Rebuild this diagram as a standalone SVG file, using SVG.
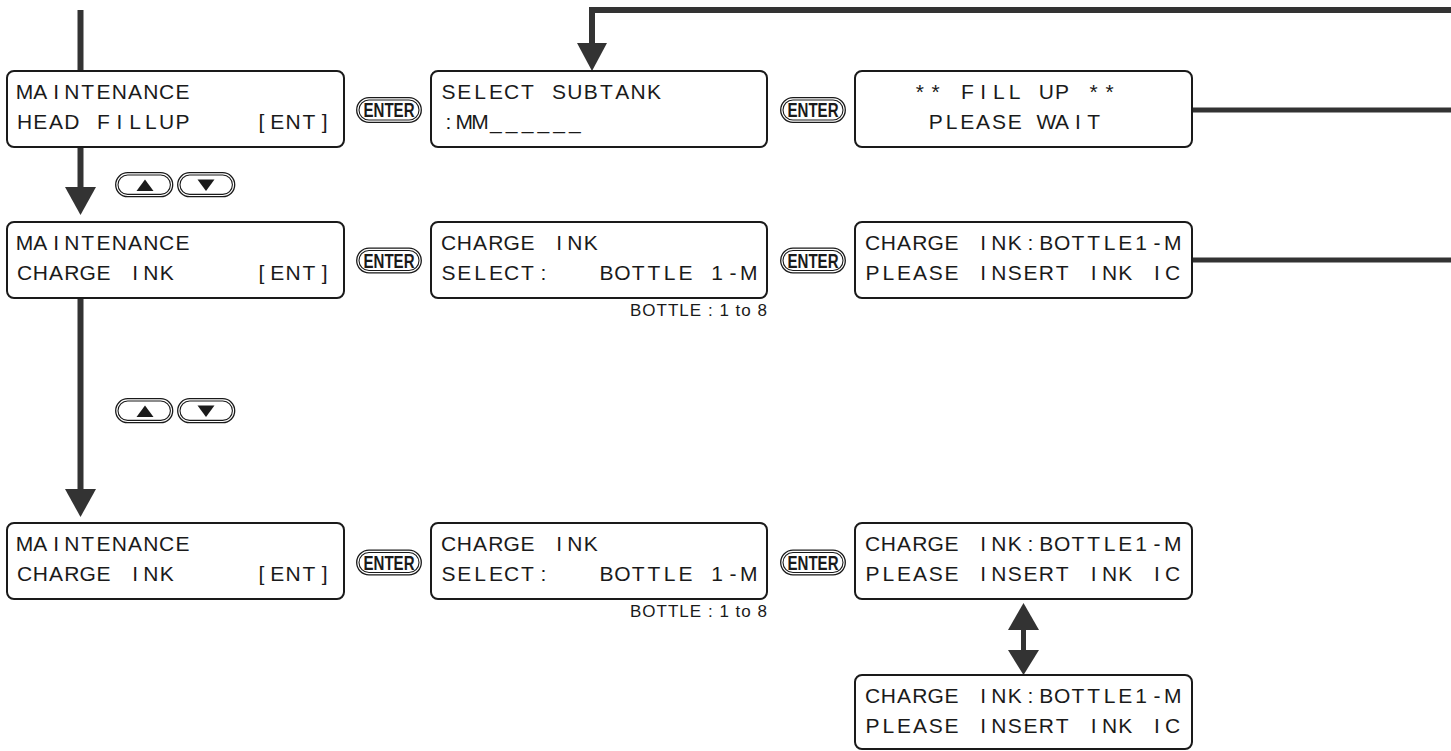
<svg xmlns="http://www.w3.org/2000/svg" xmlns:xlink="http://www.w3.org/1999/xlink" width="1451" height="751" viewBox="0 0 1451 751">
<style>
.box{fill:#fff;stroke:#1a1a1a;stroke-width:2}
.lcd{font-family:"Liberation Sans",Arial,sans-serif;font-size:21px;fill:#1a1a1a;text-anchor:middle}
.lbl{font-family:"Liberation Sans",Arial,sans-serif;font-size:17px;fill:#1a1a1a;text-anchor:end}
.btn{fill:#fff;stroke:#1a1a1a;stroke-width:1.3}
.btnin{fill:none;stroke:#1a1a1a;stroke-width:1.1}
.btxt{font-family:"Liberation Sans",Arial,sans-serif;font-weight:bold;font-size:20.5px;fill:#1a1a1a;text-anchor:middle}
.ln{fill:none;stroke:#333;stroke-width:6}
.ln5{fill:none;stroke:#333;stroke-width:5}
.hd{fill:#333}
.tri{fill:#1a1a1a}
</style>
<defs>
<g id="enter">
<rect class="btn" x="0.7" y="0.7" width="64.6" height="24.6" rx="12.3"/>
<rect class="btnin" x="3" y="3" width="60" height="20" rx="10"/>
<text class="btxt" x="33" y="20.3" textLength="51" lengthAdjust="spacingAndGlyphs">ENTER</text>
</g>
<g id="updown">
<rect class="btn" x="0.7" y="0.7" width="57" height="24" rx="12"/>
<rect class="btnin" x="3" y="3" width="52.4" height="19.4" rx="9.7"/>
<polygon class="tri" points="21.5,19 38.5,19 30,7.5"/>
<rect class="btn" x="62.7" y="0.7" width="57" height="24" rx="12"/>
<rect class="btnin" x="65" y="3" width="52.4" height="19.4" rx="9.7"/>
<polygon class="tri" points="82.5,7.5 99.5,7.5 91,19"/>
</g>
</defs>

<g id="connectors">
<line class="ln" x1="80.5" y1="10" x2="80.5" y2="71"/>
<line class="ln" x1="80.5" y1="147" x2="80.5" y2="189"/>
<polygon class="hd" points="65,187 96,187 80.5,215"/>
<line class="ln" x1="80.5" y1="298" x2="80.5" y2="491"/>
<polygon class="hd" points="65,489 96,489 80.5,517"/>
<path class="ln" d="M1451 10 H592 V45"/>
<polygon class="hd" points="577,43 607,43 592,71"/>
<line class="ln5" x1="1192" y1="110" x2="1451" y2="110"/>
<line class="ln5" x1="1192" y1="260" x2="1451" y2="260"/>
<rect class="hd" x="1021" y="628" width="5" height="24"/>
<polygon class="hd" points="1008,630 1039,630 1023.5,603"/>
<polygon class="hd" points="1008,650 1039,650 1023.5,675"/>
</g>

<g id="buttons">
<use xlink:href="#updown" href="#updown" x="115" y="172"/>
<use xlink:href="#updown" href="#updown" x="115" y="398"/>
<use xlink:href="#enter" href="#enter" x="356" y="97"/>
<use xlink:href="#enter" href="#enter" x="780" y="97"/>
<use xlink:href="#enter" href="#enter" x="356" y="247.5"/>
<use xlink:href="#enter" href="#enter" x="780" y="247.5"/>
<use xlink:href="#enter" href="#enter" x="356" y="549.5"/>
<use xlink:href="#enter" href="#enter" x="780" y="549.5"/>
</g>

<g id="n1" transform="translate(7,71)">
<rect class="box" x="0" y="0" width="337" height="76" rx="7"/>
<text class="lcd" y="28" x="17.5 33.3 49.1 64.9 80.7 96.5 112.3 128.1 143.9 159.7 175.5">MAINTENANCE</text>
<text class="lcd" y="57.5" x="17.5 33.3 49.1 64.9 80.7 96.5 112.3 128.1 143.9 159.7 175.5">HEAD FILLUP</text>
<text class="lcd" y="57.5" x="254.5 270.3 286.1 301.9 317.7">[ENT]</text>
</g>
<g id="n2" transform="translate(431,71)">
<rect class="box" x="0" y="0" width="336" height="76" rx="7"/>
<text class="lcd" y="28" x="17.5 33.3 49.1 64.9 80.7 96.5 112.3 128.1 143.9 159.7 175.5 191.3 207.1 222.9">SELECT SUBTANK</text>
<text class="lcd" y="57.5" x="17.5 33.3 49.1 64.9 80.7 96.5 112.3 128.1 143.9">:MM______</text>
</g>
<g id="n3" transform="translate(855,71)">
<rect class="box" x="0" y="0" width="337" height="76" rx="7"/>
<text class="lcd" y="28" x="64.9 80.7 96.5 112.3 128.1 143.9 159.7 175.5 191.3 207.1 222.9 238.7 254.5">** FILL UP **</text>
<text class="lcd" y="57.5" x="80.7 96.5 112.3 128.1 143.9 159.7 175.5 191.3 207.1 222.9 238.7">PLEASE WAIT</text>
</g>

<g id="n4" transform="translate(7,222)">
<rect class="box" x="0" y="0" width="337" height="76" rx="7"/>
<text class="lcd" y="28" x="17.5 33.3 49.1 64.9 80.7 96.5 112.3 128.1 143.9 159.7 175.5">MAINTENANCE</text>
<text class="lcd" y="57.5" x="17.5 33.3 49.1 64.9 80.7 96.5 112.3 128.1 143.9 159.7">CHARGE INK</text>
<text class="lcd" y="57.5" x="254.5 270.3 286.1 301.9 317.7">[ENT]</text>
</g>
<g id="n5" transform="translate(431,222)">
<rect class="box" x="0" y="0" width="336" height="76" rx="7"/>
<text class="lcd" y="28" x="17.5 33.3 49.1 64.9 80.7 96.5 112.3 128.1 143.9 159.7">CHARGE INK</text>
<text class="lcd" y="57.5" x="17.5 33.3 49.1 64.9 80.7 96.5 112.3">SELECT:</text>
<text class="lcd" y="57.5" x="175.5 191.3 207.1 222.9 238.7 254.5 270.3 286.1 301.9 317.7">BOTTLE 1-M</text>
<text class="lbl" x="336" y="94" textLength="137" lengthAdjust="spacing">BOTTLE : 1 to 8</text>
</g>
<g id="n6" transform="translate(855,222)">
<rect class="box" x="0" y="0" width="337" height="76" rx="7"/>
<text class="lcd" y="28" x="17.5 33.3 49.1 64.9 80.7 96.5 112.3 128.1 143.9 159.7 175.5 191.3 207.1 222.9 238.7 254.5 270.3 286.1 301.9 317.7">CHARGE INK:BOTTLE1-M</text>
<text class="lcd" y="57.5" x="17.5 33.3 49.1 64.9 80.7 96.5 112.3 128.1 143.9 159.7 175.5 191.3 207.1 222.9 238.7 254.5 270.3 286.1 301.9 317.7">PLEASE INSERT INK IC</text>
</g>

<g id="n7" transform="translate(7,523)">
<rect class="box" x="0" y="0" width="337" height="76" rx="7"/>
<text class="lcd" y="28" x="17.5 33.3 49.1 64.9 80.7 96.5 112.3 128.1 143.9 159.7 175.5">MAINTENANCE</text>
<text class="lcd" y="57.5" x="17.5 33.3 49.1 64.9 80.7 96.5 112.3 128.1 143.9 159.7">CHARGE INK</text>
<text class="lcd" y="57.5" x="254.5 270.3 286.1 301.9 317.7">[ENT]</text>
</g>
<g id="n8" transform="translate(431,523)">
<rect class="box" x="0" y="0" width="336" height="76" rx="7"/>
<text class="lcd" y="28" x="17.5 33.3 49.1 64.9 80.7 96.5 112.3 128.1 143.9 159.7">CHARGE INK</text>
<text class="lcd" y="57.5" x="17.5 33.3 49.1 64.9 80.7 96.5 112.3">SELECT:</text>
<text class="lcd" y="57.5" x="175.5 191.3 207.1 222.9 238.7 254.5 270.3 286.1 301.9 317.7">BOTTLE 1-M</text>
<text class="lbl" x="336" y="94" textLength="137" lengthAdjust="spacing">BOTTLE : 1 to 8</text>
</g>
<g id="n9" transform="translate(855,523)">
<rect class="box" x="0" y="0" width="337" height="76" rx="7"/>
<text class="lcd" y="28" x="17.5 33.3 49.1 64.9 80.7 96.5 112.3 128.1 143.9 159.7 175.5 191.3 207.1 222.9 238.7 254.5 270.3 286.1 301.9 317.7">CHARGE INK:BOTTLE1-M</text>
<text class="lcd" y="57.5" x="17.5 33.3 49.1 64.9 80.7 96.5 112.3 128.1 143.9 159.7 175.5 191.3 207.1 222.9 238.7 254.5 270.3 286.1 301.9 317.7">PLEASE INSERT INK IC</text>
</g>
<g id="n10" transform="translate(855,675)">
<rect class="box" x="0" y="0" width="337" height="74" rx="7"/>
<text class="lcd" y="28" x="17.5 33.3 49.1 64.9 80.7 96.5 112.3 128.1 143.9 159.7 175.5 191.3 207.1 222.9 238.7 254.5 270.3 286.1 301.9 317.7">CHARGE INK:BOTTLE1-M</text>
<text class="lcd" y="57.5" x="17.5 33.3 49.1 64.9 80.7 96.5 112.3 128.1 143.9 159.7 175.5 191.3 207.1 222.9 238.7 254.5 270.3 286.1 301.9 317.7">PLEASE INSERT INK IC</text>
</g>
</svg>
